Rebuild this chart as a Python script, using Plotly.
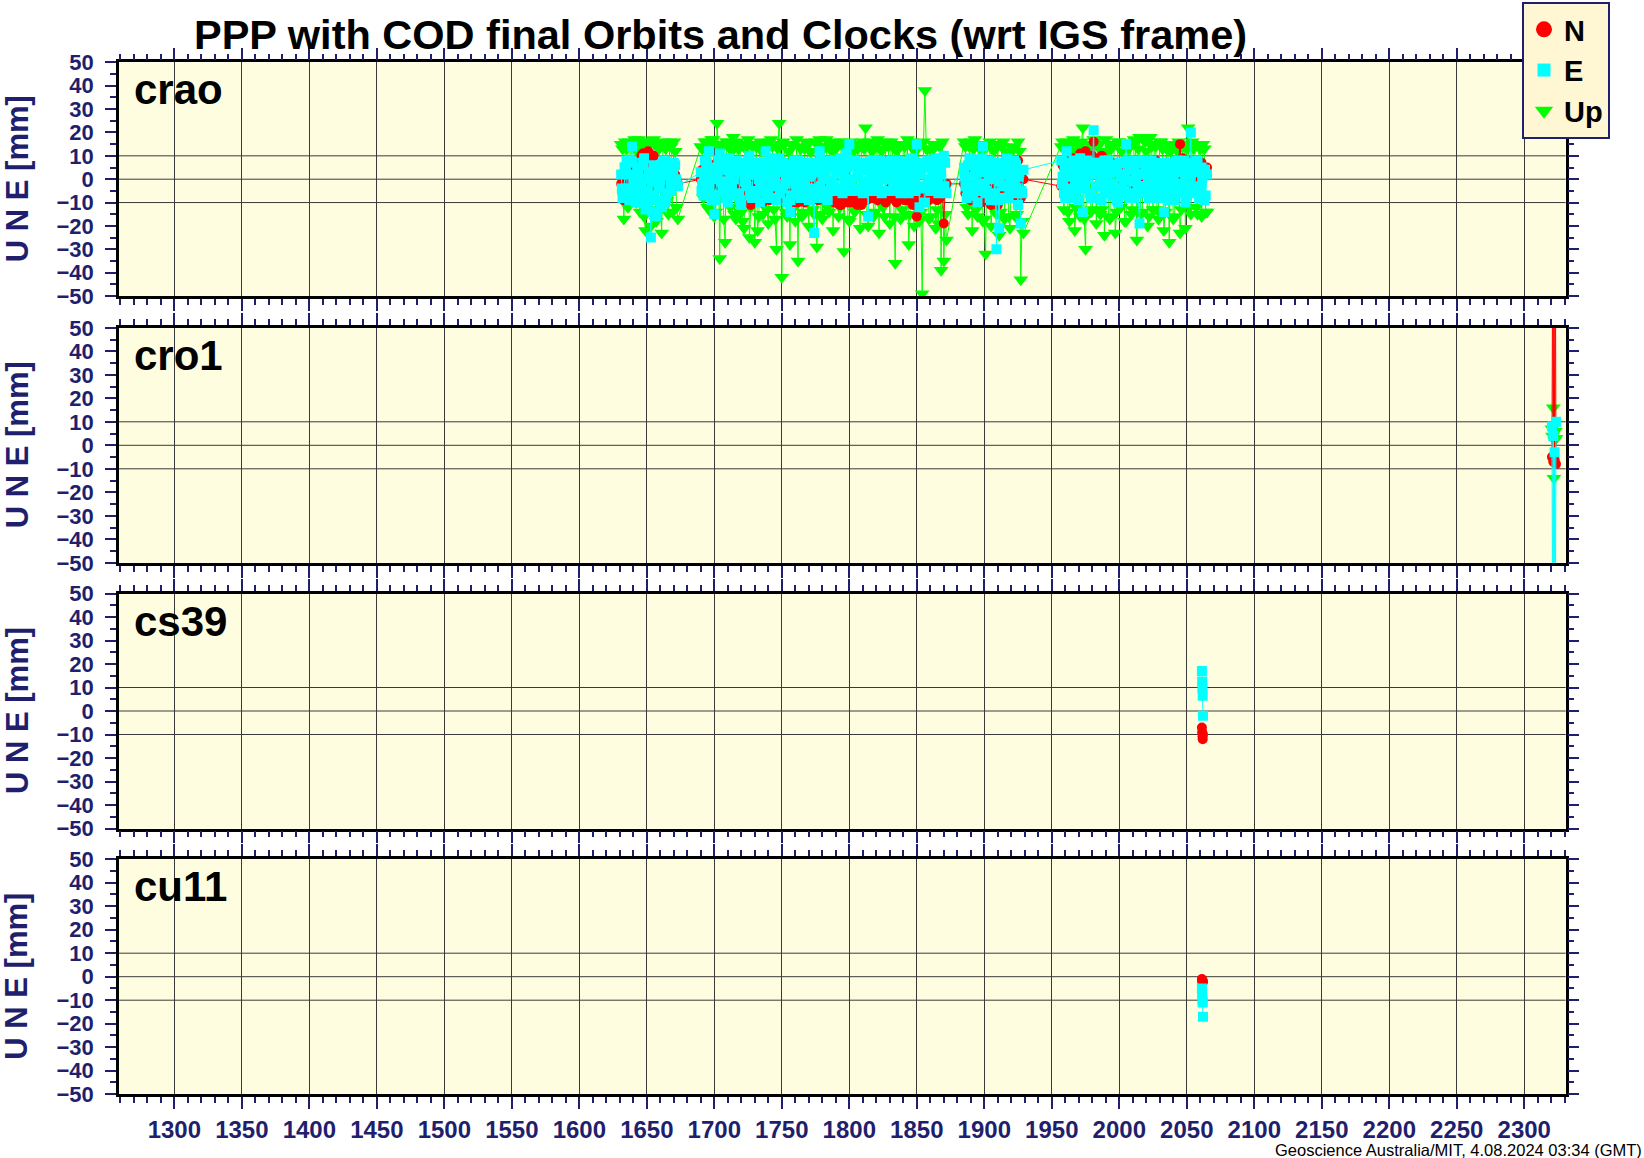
import plotly.graph_objects as go

# ------------------------------------------------------------------ data
# GPS-week epochs of the crao solutions (four observing spans, interleaved sets)
crao_weeks_1a = list(range(1631, 1674, 2))
crao_weeks_1b = list(range(1632, 1673, 2))
crao_weeks_2a = list(range(1690, 1873, 2))
crao_weeks_2b = list(range(1691, 1872, 2))
crao_weeks_3a = list(range(1885, 1930, 2))
crao_weeks_3b = list(range(1886, 1929, 2))
crao_weeks_4a = list(range(1957, 2066, 2))
crao_weeks_4b = list(range(1958, 2065, 2))
# extra mid-week East solutions
crao_weeks_1c = [w + 0.5 for w in range(1631, 1672, 2)]
crao_weeks_2c = [w + 0.5 for w in range(1690, 1871, 2)]
crao_weeks_3c = [w + 0.5 for w in range(1885, 1928, 2)]
crao_weeks_4c = [w + 0.5 for w in range(1957, 2064, 2)]

crao_N_1a = [-2, -9, 1, -4, 3, -7, 0, 4, 11, 9, 12, 8, 10, 5, 2, -3, 1, -5, 0, -1, 2, -2]
crao_E_1a = [2, -6, 8, -9, 14, -3, 5, -10, 7, -13, 0, -25, 6, -16, 3, -12, 8, -6, 4, -2, 6, -3]
crao_U_1a = [15, -17, 13, 16, -8, 17, 12, -14, 16, -22, 14, -20, 17, -18, 13, -23, 15, -9, 16, -14, 12, -17]
crao_N_1b = [-6, 2, -3, 5, -8, 1, 6, 10, 11, 8, 10, 6, 3, -4, 0, -2, 3, -1, -4, 1, 0]
crao_E_1b = [-8, 5, -4, 8, 0, -10, 4, -7, 9, -5, 2, -14, 5, -9, 0, 7, -8, 2, -5, 7, -1]
crao_U_1b = [13, 16, -12, 15, 14, -10, 17, 15, -16, 13, 16, -13, 15, 14, -11, 16, 13, -15, 14, 16, -12]
crao_E_1c = [-4, 5, -8, 2, 7, -6, 1, -3, 6, -9, 3, -1, -7, 5, -4, 2, -10, 6, -2, 4, 0]

crao_N_2a = [0, -4, 3, -2, 6, 2, 7, -3, 5, 1,
             6, -2, 3, -5, 0, -8, -3, -10, -6, -9,
             -2, -8, -4, -10, -6, -3, -8, 0, -5, 2,
             -4, -1, -7, -3, -9, -5, -10, -7, -4, -9,
             -6, -2, -8, -3, 1, -5, -2, -7, -4, -8,
             -10, -6, -11, -8, -7, -10, -6, -9, -11, -7,
             -9, -5, -8, -4, -6, -3, -7, -5, -8, -6,
             -4, -7, -9, -6, -8, -5, -9, -7, -10, -6,
             -16, -8, -5, -9, -6, -4, -8, -6, -3, -7,
             -19, -2]
crao_E_2a = [3, -7, 6, 12, -9, -15, 4, 11, -5, 7,
             -10, 1, 6, -7, 3, -11, 7, -3, 10, -8,
             2, 6, -10, 4, 12, -6, 1, 7, -9, 9,
             -4, 5, -10, -14, 6, -2, 8, -8, 3, 6,
             -9, 2, -23, 7, 12, -6, 4, -9, 8, -3,
             6, -5, 9, 1, 11, 15, -5, 8, -4, 5,
             -6, 7, -16, 2, 8, -5, 6, -6, 3, 7,
             -5, 5, -3, 8, -6, 2, 6, -6, 9, -4,
             15, -12, 6, -10, 8, -5, 4, 9, -6, 3,
             10, -6]
crao_U_2a = [14, -8, 16, -13, 17, -16, 24, -34, 15, -27,
             16, -12, 18, -17, 13, -14, -21, 15, -25, 14,
             -27, -22, 16, -15, 13, -19, 17, -13, -30, 24,
             -42, 15, -16, -28, 14, -18, -35, 13, -14, 16,
             -20, 12, -15, -29, 17, -17, 14, -12, 15, -22,
             13, -16, 16, -31, 12, -18, 15, -14, 13, -21,
             16, 22, -20, 14, -16, 15, -23, 12, -16, 16,
             -19, 14, -36, 13, -17, 15, -15, -28, 16, -20,
             14, -18, -49, 38, 13, -16, 15, -21, -19, -39,
             -35, -26]
crao_N_2b = [4, -3, 6, 1, 5, -1, 3, 6, -2, 4,
             0, 2, -4, -7, -2, -9, -5, -8, -11, -6,
             -9, -5, -10, -7, -4, -9, -6, -2, -8, -3,
             -6, -9, -5, -8, -10, -4, -8, -6, -10, -5,
             -8, -4, -6, -9, -2, -7, -5, -9, -6, -10,
             -8, -11, -7, -9, -10, -8, -10, -7, -9, -11,
             -7, -9, -6, -8, -5, -9, -6, -8, -10, -7,
             -8, -6, -10, -8, -7, -9, -6, -8, -11, -9,
             -8, -10, -7, -6, -9, -7, -5, -9, -8, -6,
             -4]
crao_E_2b = [-2, 8, -4, 5, 0, -9, 8, -1, 4, -6,
             9, -4, 2, 7, -9, 4, -1, 8, -5, 5,
             -8, 0, 7, -5, 3, 9, -8, -2, 5, -6,
             7, -1, 4, -7, 8, -5, 1, 6, -3, -8,
             7, -4, 3, -8, 8, 0, -5, 6, -2, 8,
             -4, 3, -6, 7, 0, -3, 8, -5, 2, 7,
             -2, 4, -5, 8, 0, -4, 7, 2, -5, 5,
             8, -2, 3, -5, 7, 0, -4, 8, 1, -5,
             6, 3, -4, 7, -2, 8, -5, 1, 6, -4,
             7]
crao_U_2b = [13, 16, -12, 15, 17, -14, 14, 13, -17, 16,
             15, 12, -15, 16, 14, -18, 13, 17, -12, 15,
             14, -16, 12, 15, -13, 16, 14, -17, 13, 15,
             16, -14, 12, 15, -12, 17, 14, -16, 13, 15,
             12, -13, 16, 14, -15, 13, 17, -14, 12, 16,
             14, -12, 15, 13, -17, 16, 12, -13, 15, 14,
             13, -15, 16, 12, -14, 17, 13, -12, 15, 14,
             16, -16, 12, 15, -13, 14, 17, -15, 13, 12,
             15, -14, 16, 13, -17, 12, 15, -13, 14, 16,
             -15]
crao_E_2c = [-5, 2, 7, -3, 4, -7, 1, 6, -2, -8,
             5, -4, 0, 8, -6, 3, -1, 5, -7, 2,
             7, -5, -1, 4, -8, 6, -3, 1, 8, -6,
             3, -2, 6, -9, 0, 5, -5, 2, 7, -4,
             1, -7, 4, 6, -3, -6, 2, 5, -1, -5,
             3, 7, -4, 0, 5, -2, 6, -5, 1, 4,
             -3, 7, -1, 5, -4, 2, 8, -5, 0, 3,
             6, -4, 1, 7, -2, 4, -5, 3, 6, -1,
             2, 7, -3, 5, 0, -5, 6, -2, 4, 7,
             -3]

crao_N_3a = [-2, -5, 3, -8, 0, -10, -4, 2, -9, -6, -11, -3, -7, -9, -1, -6, 2, -4, 1, -3, 8, -8, 0]
crao_E_3a = [5, -8, 9, -3, 7, -10, 3, 14, -6, 8, -9, 2, -30, -21, 6, -8, 9, -5, -6, 7, -11, -19, 4]
crao_U_3a = [16, -12, 14, -22, 17, -16, 13, -18, -32, 15, -20, 12, -15, -24, 14, -17, 11, -21, 13, -16, 16, -43, -23]
crao_N_3b = [-6, 0, -9, -4, -7, 1, -10, -5, -8, -2, -9, -6, -11, -3, -7, 0, -5, -8, -2, 5, -4, -7]
crao_E_3b = [-3, 6, -7, 1, 8, -5, 9, -2, 4, -8, 6, 1, -9, 7, -3, 5, -8, 2, 8, -4, 3, -6]
crao_U_3b = [14, -15, 16, 13, -13, 15, 12, -17, 14, 16, -12, 13, 15, -14, 16, 12, -16, 14, 13, -15, 12, -18]
crao_E_3c = [1, -4, 6, -7, 3, 8, -2, 5, -5, 0, 7, -6, 4, -1, 2, -8, 5, 0, -3, 6, 1, -5]

crao_N_4a = [-3, 5, 7, -2, 6, 8, 4, 11, 6, 12,
             3, 7, 16, 5, 8, 10, 4, 6, -1, 7,
             3, 5, 0, 4, 2, 6, -2, 3, 8, 1,
             5, -3, 8, 2, 6, 8, 0, 4, 1, 5,
             -2, 3, 6, 2, 15, 9, 4, 7, 1, 6,
             -1, 4, 7, 2, 5]
crao_E_4a = [8, -6, 12, 3, -8, 6, -4, 9, -14, 2,
             7, -7, 21, -3, 5, -9, 8, -5, 3, -7,
             6, -10, 1, 7, 15, -6, 4, -8, 8, -19,
             2, -5, 7, -7, 3, 6, -8, 1, -14, 7,
             -5, 4, -9, 8, -3, 6, -10, 3, 20, -6,
             8, -8, 5, -9, 2]
crao_U_4a = [14, -13, 16, -18, 12, -22, 15, -16, 22, -30,
             13, -14, 17, -19, 15, -13, -24, 12, -17, 14,
             -23, 16, -12, 15, -18, 13, -15, 17, -26, 18,
             -14, 16, -20, 18, -13, 14, -17, 16, -22, 13,
             -27, 15, -16, 12, -23, 14, -21, 22, -15, 13,
             -12, 15, -16, 13, -14]
crao_N_4b = [6, 3, 8, 5, 9, 7, 6, 9, 5, 8,
             7, 10, 6, 8, 5, 9, 7, 3, 6, 4,
             7, 2, 5, 6, 3, 7, 4, 1, 6, 3,
             5, 7, 2, 6, 8, 4, 6, 3, 7, 5,
             2, 6, 4, 8, 7, 5, 3, 6, 8, 4,
             6, 3, 5, 2]
crao_E_4b = [1, -8, 6, -4, 8, 0, -9, 5, -2, 8,
             -6, 3, 7, -8, 1, 6, -3, 8, -6, 4,
             -9, 7, -4, 2, 8, -8, 5, 0, -6, 7,
             -3, 4, -8, 8, 0, -6, 6, -4, 2, -9,
             6, -1, 7, -6, 3, 8, -7, 1, 6, -4,
             7, -3, 4, -7]
crao_U_4b = [16, 13, -14, 15, 17, -12, 14, 16, -17, 13,
             15, -13, 16, 14, -15, 12, 17, -16, 13, 15,
             -14, 16, 12, -18, 15, 14, -13, 16, 13, -15,
             17, 12, -16, 14, 15, -13, 16, 13, -14, 15,
             12, -17, 14, 16, -13, 15, 13, -12, 16, 14,
             -15, 13, 15, -14]
crao_E_4c = [-2, 4, -5, 7, 1, -7, 3, 6, -4, 0,
             5, -8, 2, 7, -3, 4, -6, 1, 6, -2,
             3, -5, 7, 0, -7, 5, -1, 4, -4, 2,
             8, -6, 1, 5, -3, 7, -5, 3, -1, 6,
             -7, 2, 5, -2, 4, -6, 7, 0, -4, 3,
             6, -5, 1, 4]

cro1_weeks = [2320.5, 2321.0, 2321.5, 2322.0, 2322.5, 2323.0, 2323.5]
cro1_N = [-5, 80, -7, 85, -6, 90, -8]
cro1_E = [8, -80, 4, -85, -3, -90, 10]
cro1_U = [7, 4, 16, -14, 2, 6, 3]

cs39_weeks = [2061.2, 2061.4, 2061.6, 2061.8, 2062.0]
cs39_N = [-7, -9, -11, -12, -10]
cs39_E = [17, 12.5, 10, 6.5, -2]

cu11_weeks = [2061.2, 2061.4, 2061.6, 2061.8, 2062.0]
cu11_N = [-1, -2, -1.5, -2.5, -2]
cu11_E = [-5, -7.5, -10, -11, -17]

stations = ["crao", "cro1", "cs39", "cu11"]
x_ticks = [1300, 1350, 1400, 1450, 1500, 1550, 1600, 1650, 1700, 1750, 1800,
           1850, 1900, 1950, 2000, 2050, 2100, 2150, 2200, 2250, 2300]
y_ticks = [-50, -40, -30, -20, -10, 0, 10, 20, 30, 40, 50]
h_grid = [-10, 0, 10]
series_names = ["N", "E", "Up"]


def merge(*pairs):
    """Combine (weeks, values) sets into one time-ordered series."""
    rows = []
    for wk, vals in pairs:
        rows.extend(zip(wk, vals))
    rows.sort(key=lambda r: r[0])
    return [r[0] for r in rows], [r[1] for r in rows]


station_series = {
    "crao": {
        "N": merge((crao_weeks_1a, crao_N_1a), (crao_weeks_1b, crao_N_1b),
                   (crao_weeks_2a, crao_N_2a), (crao_weeks_2b, crao_N_2b),
                   (crao_weeks_3a, crao_N_3a), (crao_weeks_3b, crao_N_3b),
                   (crao_weeks_4a, crao_N_4a), (crao_weeks_4b, crao_N_4b)),
        "E": merge((crao_weeks_1a, crao_E_1a), (crao_weeks_1b, crao_E_1b),
                   (crao_weeks_1c, crao_E_1c),
                   (crao_weeks_2a, crao_E_2a), (crao_weeks_2b, crao_E_2b),
                   (crao_weeks_2c, crao_E_2c),
                   (crao_weeks_3a, crao_E_3a), (crao_weeks_3b, crao_E_3b),
                   (crao_weeks_3c, crao_E_3c),
                   (crao_weeks_4a, crao_E_4a), (crao_weeks_4b, crao_E_4b),
                   (crao_weeks_4c, crao_E_4c)),
        "Up": merge((crao_weeks_1a, crao_U_1a), (crao_weeks_1b, crao_U_1b),
                    (crao_weeks_2a, crao_U_2a), (crao_weeks_2b, crao_U_2b),
                    (crao_weeks_3a, crao_U_3a), (crao_weeks_3b, crao_U_3b),
                    (crao_weeks_4a, crao_U_4a), (crao_weeks_4b, crao_U_4b)),
    },
    "cro1": {"N": (cro1_weeks, cro1_N), "E": (cro1_weeks, cro1_E),
             "Up": (cro1_weeks, cro1_U)},
    "cs39": {"N": (cs39_weeks, cs39_N), "E": (cs39_weeks, cs39_E)},
    "cu11": {"N": (cu11_weeks, cu11_N), "E": (cu11_weeks, cu11_E)},
}

# ------------------------------------------------------------------ style
W, H = 1644, 1158
NAVY = "#1f1f6e"
BG = "#fffde0"
FONT = "Liberation Sans"
COL = {"N": "#ff0000", "E": "#00ffff", "Up": "#00ff00"}
SYM = {"N": "circle", "E": "square", "Up": "triangle-down"}
SIZE = {"N": 10, "E": 10, "Up": 13}

X_LEFT, X_RIGHT = 119, 1565.7
PANELS = [(62.4, 296.0), (327.8, 562.8), (593.5, 828.5), (859.2, 1094.2)]
X_RANGE = [1259, 2330.7]


def py(pix):
    return 1 - pix / H


fig = go.Figure()

for k, st in enumerate(stations, start=1):
    ax = "" if k == 1 else str(k)
    for name in ("Up", "N", "E"):
        if name not in station_series[st]:
            continue
        wk, vals = station_series[st][name]
        fig.add_trace(go.Scatter(
            x=wk, y=vals, mode="lines+markers", showlegend=False,
            xaxis="x" + ax, yaxis="y" + ax,
            line=dict(color=COL[name], width=1),
            marker=dict(color=COL[name], symbol=SYM[name], size=SIZE[name],
                        line=dict(width=0)),
            hoverinfo="skip"))

# legend-only entries
for rank, name in enumerate(series_names):
    fig.add_trace(go.Scatter(
        x=[None], y=[None], mode="markers", name=name, legendrank=rank + 1,
        marker=dict(color=COL[name], symbol=SYM[name],
                    size={"N": 16, "E": 13, "Up": 16}[name])))

layout = dict(
    width=W, height=H,
    margin=dict(l=0, r=0, t=0, b=0, pad=0, autoexpand=False),
    paper_bgcolor="white", plot_bgcolor=BG,
    showlegend=True,
    legend=dict(x=1522 / W, y=py(2), xanchor="left", yanchor="top",
                bgcolor="#fff7d4", bordercolor=NAVY, borderwidth=2,
                font=dict(family=FONT, size=29, color="black", weight="bold"),
                itemsizing="trace", itemwidth=30, tracegroupgap=0),
)

shapes = []
annotations = []
for k, (top, bot) in enumerate(PANELS, start=1):
    ax = "" if k == 1 else str(k)
    xa = dict(
        domain=[X_LEFT / W, X_RIGHT / W], anchor="y" + ax, range=X_RANGE,
        automargin=False,
        tickmode="array", tickvals=x_ticks, ticks="outside", ticklen=12,
        tickwidth=1.5, tickcolor=NAVY, showticklabels=(k == 4),
        tickfont=dict(family=FONT, size=24, color=NAVY, weight="bold"),
        ticklabelstandoff=0,
        minor=dict(dtick=10, tick0=1300, ticks="outside", ticklen=6,
                   tickwidth=1.5, tickcolor=NAVY, showgrid=False),
        showgrid=True, gridcolor="#3a3a3a", gridwidth=1,
        showline=True, linecolor="black", linewidth=2.5, mirror="allticks",
        zeroline=False, fixedrange=True)
    ya = dict(
        domain=[py(bot), py(top)], anchor="x" + ax, range=[-50, 50],
        automargin=False,
        tickmode="array", tickvals=y_ticks, ticks="outside", ticklen=11,
        tickwidth=1.5, tickcolor=NAVY,
        tickfont=dict(family=FONT, size=22, color=NAVY, weight="bold"),
        ticklabelstandoff=7,
        minor=dict(dtick=5, tick0=0, ticks="outside", ticklen=6,
                   tickwidth=1.5, tickcolor=NAVY, showgrid=False),
        showgrid=False, zeroline=False,
        showline=True, linecolor="black", linewidth=2.5, mirror="allticks",
        fixedrange=True)
    if k > 1:
        xa["matches"] = "x"
    layout["xaxis" + ax] = xa
    layout["yaxis" + ax] = ya
    for yv in h_grid:
        shapes.append(dict(type="line", xref="x" + ax + " domain", x0=0, x1=1,
                           yref="y" + ax, y0=yv, y1=yv, layer="below",
                           line=dict(color="#3a3a3a", width=1)))
    annotations.append(dict(
        text=stations[k - 1], xref="paper", yref="paper",
        x=132 / W, y=py(top + 27.5), xanchor="left", yanchor="middle",
        showarrow=False,
        font=dict(family=FONT, size=42, color="black", weight="bold")))
    annotations.append(dict(
        text="U N E [mm]", xref="paper", yref="paper",
        x=17 / W, y=py((top + bot) / 2), xanchor="center", yanchor="middle",
        textangle=-90, showarrow=False,
        font=dict(family=FONT, size=31, color=NAVY, weight="bold")))

annotations.append(dict(
    text="PPP with COD final Orbits and Clocks (wrt IGS frame)",
    xref="paper", yref="paper", x=192 / W, y=py(34), xanchor="left",
    yanchor="middle", showarrow=False,
    font=dict(family=FONT, size=41.5, color="black", weight="bold")))
annotations.append(dict(
    text="Geoscience Australia/MIT, 4.08.2024 03:34 (GMT)",
    xref="paper", yref="paper", x=1, y=py(1150), xanchor="right",
    yanchor="middle", showarrow=False,
    font=dict(family=FONT, size=16.5, color="black")))

layout["shapes"] = shapes
layout["annotations"] = annotations
fig.update_layout(**layout)

fig.write_html("out.html")
